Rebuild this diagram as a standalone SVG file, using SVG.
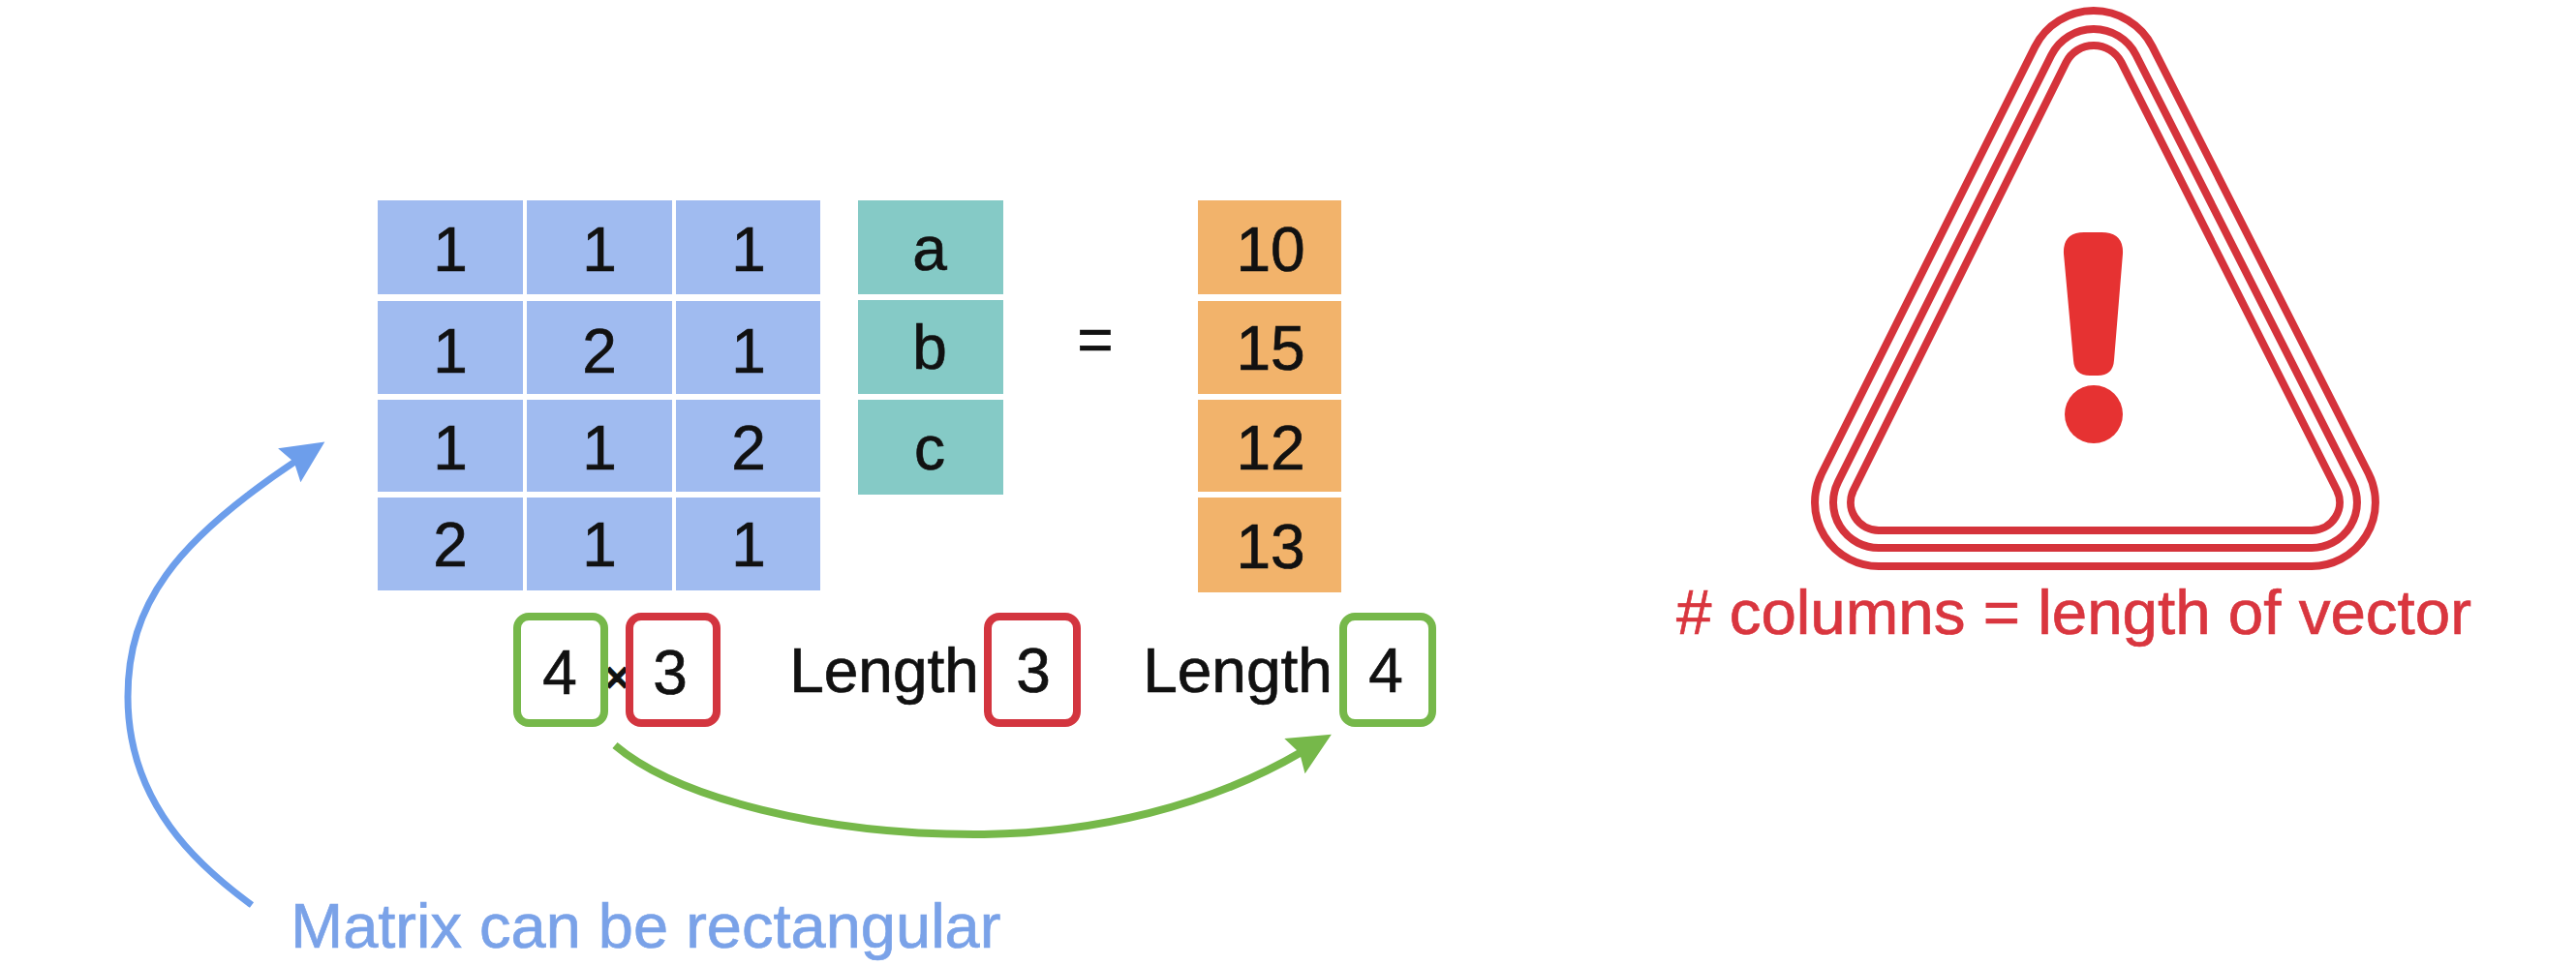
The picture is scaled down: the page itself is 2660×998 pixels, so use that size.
<svg xmlns="http://www.w3.org/2000/svg" width="2660" height="998" viewBox="0 0 2660 998">
<style>
text{font-family:"Liberation Sans",Arial,sans-serif;font-size:64px;fill:#111;stroke:#111;stroke-width:.7;text-anchor:middle}
.m{fill:#a0bbf0}.v{fill:#85cac6}.o{fill:#f2b36b}
.g{fill:none;stroke:#76b84a;stroke-width:8}
.r{fill:none;stroke:#d3353f;stroke-width:8}
.tri{fill:none;stroke:#d5333b;stroke-width:8}
.red{fill:#e63232}
text.redt{fill:#d9363f;stroke:#d9363f;text-anchor:start;font-size:65.5px}
text.blue{fill:#7aa2e8;stroke:#7aa2e8;text-anchor:start;font-size:65px}
</style>
<defs>
<marker id="hb" markerUnits="userSpaceOnUse" markerWidth="60" markerHeight="60" refX="14" refY="21" orient="auto"><path d="M50 21 L6 0 L12 21 L6 42Z" fill="#6d9eeb"/></marker>
<marker id="hg" markerUnits="userSpaceOnUse" markerWidth="60" markerHeight="60" refX="14" refY="21" orient="auto"><path d="M50 21 L6 0 L12 21 L6 42Z" fill="#76b84a"/></marker>
</defs>
<rect width="2660" height="998" fill="#fff"/>
<g id="matrix">
<rect class="m" x="390" y="207" width="150" height="97"/><rect class="m" x="544" y="207" width="150" height="97"/><rect class="m" x="698" y="207" width="149" height="97"/>
<rect class="m" x="390" y="311" width="150" height="96"/><rect class="m" x="544" y="311" width="150" height="96"/><rect class="m" x="698" y="311" width="149" height="96"/>
<rect class="m" x="390" y="413" width="150" height="95"/><rect class="m" x="544" y="413" width="150" height="95"/><rect class="m" x="698" y="413" width="149" height="95"/>
<rect class="m" x="390" y="514" width="150" height="96"/><rect class="m" x="544" y="514" width="150" height="96"/><rect class="m" x="698" y="514" width="149" height="96"/>
<text x="465" y="280">1</text><text x="619" y="280">1</text><text x="773" y="280">1</text>
<text x="465" y="385">1</text><text x="619" y="385">2</text><text x="773" y="385">1</text>
<text x="465" y="485">1</text><text x="619" y="485">1</text><text x="773" y="485">2</text>
<text x="465" y="585">2</text><text x="619" y="585">1</text><text x="773" y="585">1</text>
</g>
<g id="vector">
<rect class="v" x="886" y="207" width="150" height="97"/><rect class="v" x="886" y="310" width="150" height="97"/><rect class="v" x="886" y="413" width="150" height="98"/>
<text x="960" y="279">a</text><text x="960" y="381">b</text><text x="960" y="485">c</text>
</g>
<g id="equals"><text x="1131" y="373">=</text></g>
<g id="result">
<rect class="o" x="1237" y="207" width="148" height="97"/><rect class="o" x="1237" y="311" width="148" height="96"/><rect class="o" x="1237" y="413" width="148" height="95"/><rect class="o" x="1237" y="514" width="148" height="98"/>
<text x="1312" y="280">10</text><text x="1312" y="382">15</text><text x="1312" y="485">12</text><text x="1312" y="587">13</text>
</g>
<g id="dim-matrix">
<text x="637" y="715" style="font-size:44px;font-weight:bold">×</text>
<rect class="g" x="534" y="637" width="90" height="110" rx="12"/><text x="578" y="717">4</text>
<rect class="r" x="650" y="637" width="90" height="110" rx="12"/><text x="692" y="717">3</text>
</g>
<g id="len-vector">
<text x="913" y="715">Length</text>
<rect class="r" x="1020" y="637" width="92" height="110" rx="12"/><text x="1067" y="715">3</text>
</g>
<g id="len-result">
<text x="1278" y="715">Length</text>
<rect class="g" x="1387" y="637" width="92" height="110" rx="12"/><text x="1431" y="715">4</text>
</g>
<g id="connectors">
<path d="M635 770C700 825 850 862 1006 862C1130 862 1250 832 1343.8 777" fill="none" stroke="#76b84a" stroke-width="8" marker-end="url(#hg)"/>
<path d="M260 935C205 895 132 830 132 720C132 625 180 560 305.4 476.4" fill="none" stroke="#6d9eeb" stroke-width="7" marker-end="url(#hb)"/>
</g>
<g id="label-rect"><text class="blue" x="300" y="979">Matrix can be rectangular</text></g>
<g id="warning">
<path class="tri" d="M2101.3 48.4A68 68 0 0 1 2222.5 48.1L2445.7 489A66 66 0 0 1 2387 585L1940 585A66 66 0 0 1 1881.1 489.3Z"/>
<path class="tri" d="M2118.2 57A49 49 0 0 1 2205.6 56.7L2428.8 497.6A47 47 0 0 1 2387 566L1940 566A47 47 0 0 1 1898 497.9Z"/>
<path class="tri" d="M2133.4 64.6A32 32 0 0 1 2190.5 64.4L2412.8 505.8A29 29 0 0 1 2387 548L1940 548A29 29 0 0 1 1914.1 506Z"/>
<path class="red" d="M2152 240L2170 240Q2193 240 2192 262L2183 372Q2182 388 2166 388L2158 388Q2142 388 2141 372L2131 262Q2130 240 2152 240Z"/>
<ellipse class="red" cx="2162" cy="428" rx="30" ry="30"/>
<text class="redt" x="1731" y="655"># columns = length of vector</text>
</g>
</svg>
